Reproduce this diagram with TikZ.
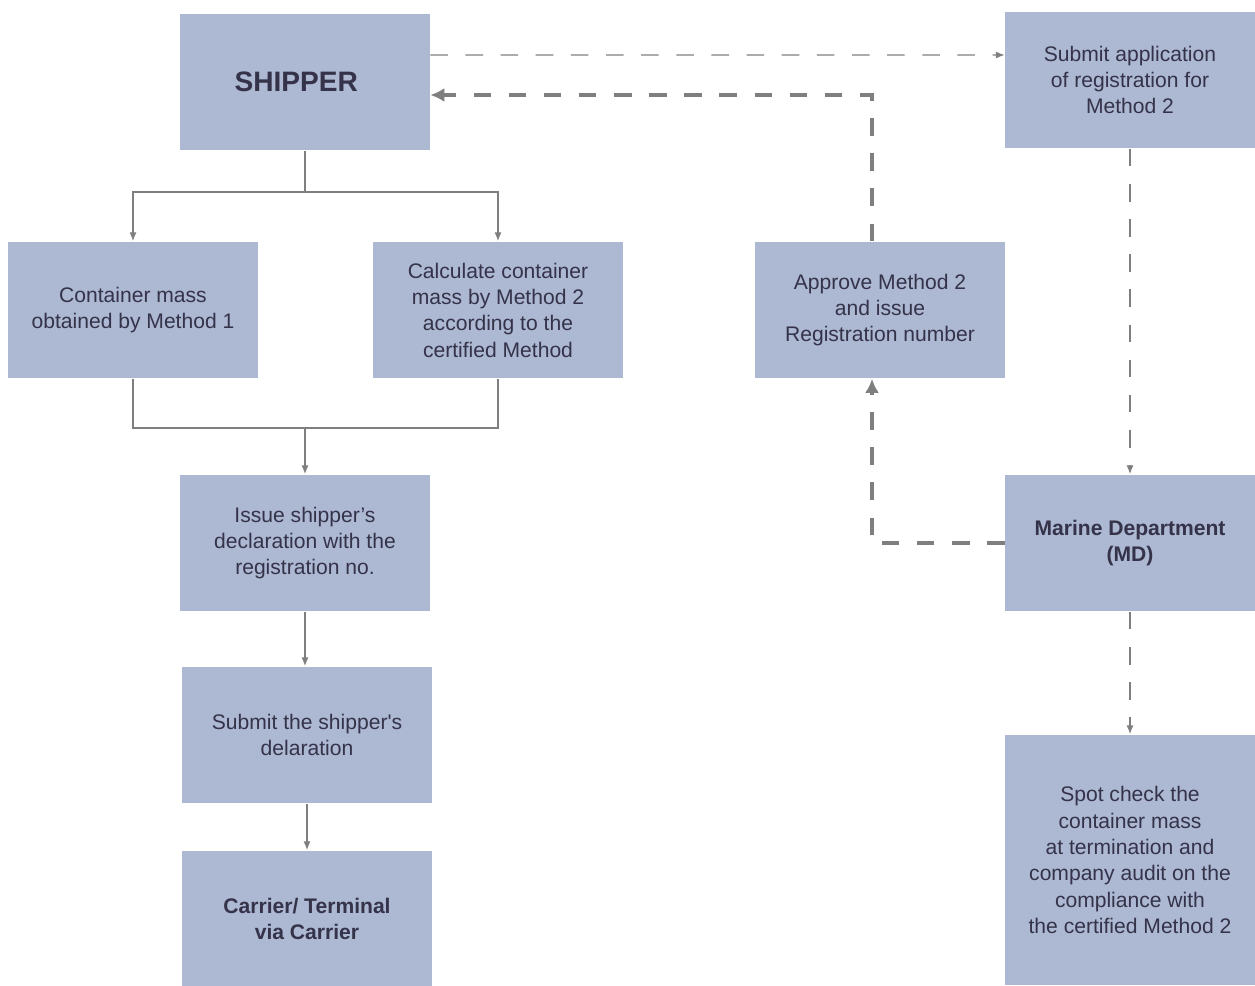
\documentclass[tikz,border=0pt]{standalone}
\usepackage{fontspec}
\setmainfont{Liberation Sans}
\usetikzlibrary{calc,arrows.meta}
\definecolor{boxblue}{HTML}{ADB8D2}
\definecolor{boxtext}{HTML}{34334A}
\definecolor{linegray}{HTML}{7F7F7F}

\begin{document}
\begin{tikzpicture}[x=0.02cm,y=-0.02cm,box/.style={fill=boxblue,text=boxtext,minimum width=5cm,minimum height=2.74cm,align=center,inner sep=2pt,font=\fontsize{12}{15}\selectfont},link/.style={linegray,line width=0.7pt},arrow/.style={link,-{Latex[length=5pt,width=4pt]}},dashlink/.style={arrow,dash pattern=on 10pt off 10pt},thickdash/.style={linegray,line width=2.2pt,dash pattern=on 10pt off 10pt,-{Latex[length=8pt,width=8pt]}}]
  \useasboundingbox (0,0) rectangle (1255,986);
  \node[box,font=\bfseries\fontsize{16}{19}\selectfont] (shipper) at (305,82) {SHIPPER\hspace{0.35cm}};
  \node[box] (apply) at (1130,80) {Submit application\\of registration for\\Method 2};
  \node[box] (method1) at (133,310) {Container mass\\obtained by Method 1};
  \node[box] (method2) at (498,310) {Calculate container\\mass by Method 2\\according to the\\certified Method};
  \node[box] (approve) at (880,310) {Approve Method 2\\and issue\\Registration number};
  \node[box] (declare) at (305,543) {Issue shipper’s\\declaration with the\\registration no.};
  \node[box,font=\bfseries\fontsize{12}{15}\selectfont] (md) at (1130,543) {Marine Department\\(MD)};
  \node[box] (submit) at (307,735) {Submit the shipper\textquotesingle s\\delaration};
  \node[box,font=\bfseries\fontsize{12}{15}\selectfont] (carrier) at (307,919) {Carrier/ Terminal\\via Carrier};
  \node[box,minimum height=5.02cm] (spot) at (1130,860) {Spot check the\\container mass\\at termination and\\company audit on the\\compliance with\\the certified Method 2};
  % shipper splits into the two methods
  \coordinate (split) at (305,192);
  \coordinate (merge) at (305,428);
  \draw[link] (shipper.south -| split) -- (split);
  \draw[arrow] (split) -| (method1.north);
  \draw[arrow] (split) -| (method2.north);
  \draw[link] (method1.south) |- (merge);
  \draw[link] (method2.south) |- (merge);
  \draw[arrow] (merge) -- (declare);
  \draw[arrow] (declare.south) -- (declare.south |- submit.north);
  \draw[arrow] (submit) -- (carrier);
  % registration loop
  \draw[dashlink] ([yshift=0.54cm]shipper.east) -- ([yshift=0.5cm]apply.west);
  \draw[dashlink] (apply) -- (md);
  \draw[dashlink] (md) -- (spot);
  \coordinate (turn) at (872,543);
  \coordinate (bend) at (872,95);
  \draw[thickdash] (md.west) -- (turn) -- (turn |- approve.south);
  \draw[thickdash] (bend |- approve.north) -- (bend) -- (bend -| shipper.east);
\end{tikzpicture}
\end{document}
